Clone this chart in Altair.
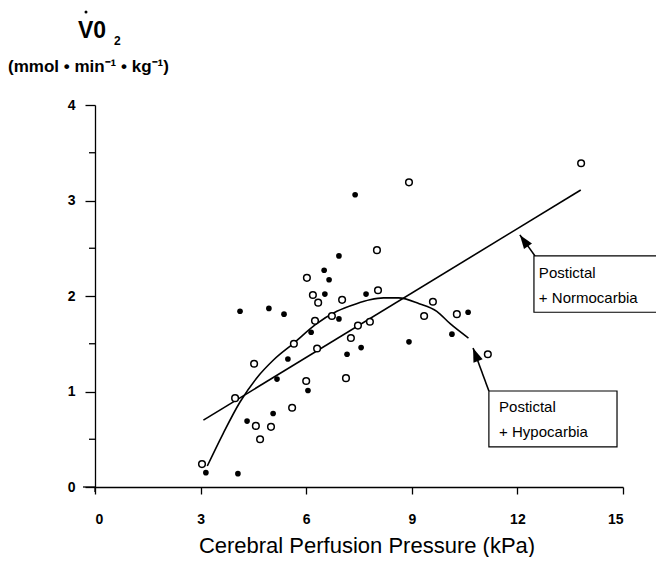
import altair as alt
import pandas as pd

# --- data ---
# Postictal + Normocarbia (open circles)
normo_x = [3.04, 3.98, 4.52, 4.57, 4.69, 5.00, 5.60, 5.65, 6.00, 6.31, 6.25, 6.34, 6.73, 7.02,
           7.13, 7.27, 7.47, 7.81, 6.02, 6.19, 8.01, 8.04, 8.92, 9.60, 9.35, 10.28, 11.16, 13.81]
normo_y = [0.24, 0.93, 1.29, 0.64, 0.50, 0.63, 0.83, 1.50, 1.11, 1.45, 1.74, 1.93, 1.79, 1.96,
           1.14, 1.56, 1.69, 1.73, 2.19, 2.01, 2.48, 2.06, 3.19, 1.94, 1.79, 1.81, 1.39, 3.39]
# Postictal + Hypocarbia (filled circles)
hypo_x = [3.15, 4.06, 4.32, 5.06, 5.17, 5.48, 6.05, 6.14, 6.93, 7.16, 7.56, 4.12, 4.94, 5.37,
          7.39, 6.93, 6.51, 6.65, 6.53, 7.70, 8.92, 10.14, 10.60]
hypo_y = [0.15, 0.14, 0.69, 0.77, 1.13, 1.34, 1.01, 1.62, 1.76, 1.39, 1.46, 1.84, 1.87, 1.81,
          3.06, 2.42, 2.27, 2.17, 2.02, 2.02, 1.52, 1.60, 1.83]
# fitted lines
normo_fit_x = [3.08, 13.80]
normo_fit_y = [0.70, 3.11]
hypo_fit_x = [3.19, 3.64, 4.12, 4.59, 5.07, 5.66, 6.26, 6.87, 7.43, 7.81, 8.20, 8.62, 9.21, 9.71, 10.09, 10.61]
hypo_fit_y = [0.22, 0.56, 0.89, 1.14, 1.33, 1.51, 1.70, 1.84, 1.92, 1.96, 1.98, 1.98, 1.92, 1.84, 1.71, 1.56]

x_ticks = [0, 3, 6, 9, 12, 15]
y_ticks = [0, 1, 2, 3, 4]
y_minor = [0.5, 1.5, 2.5, 3.5]

# annotations (data coordinates)
box_x = [12.47, 11.19]
box_x2 = [16.40, 14.83]
box_y = [2.42, 1.005]
box_y2 = [1.83, 0.42]
label_x = [12.61, 12.61, 11.48, 11.48]
label_y = [2.24, 1.98, 0.84, 0.58]
label_text = ["Postictal", "+ Normocarbia", "Postictal", "+ Hypocarbia"]
arrow_x = [12.50, 11.19]
arrow_y = [2.42, 1.005]
arrow_tip_x = [12.07, 10.74]
arrow_tip_y = [2.64, 1.455]
arrow_angle = [324.5, 339.0]

W, H = 528, 382
FONT = "Liberation Sans"

X = alt.Scale(domain=[0, 15], nice=False, zero=False)
Y = alt.Scale(domain=[0, 4], nice=False, zero=False)

normo_df = pd.DataFrame({"x": normo_x, "y": normo_y})
hypo_df = pd.DataFrame({"x": hypo_x, "y": hypo_y})

axis_x = alt.Axis(values=x_ticks, title=None, grid=False, domainColor="black", domainWidth=1.3,
                  tickColor="black", tickSize=7, tickWidth=1.3, labelFont=FONT, labelFontSize=14,
                  labelFontWeight="bold", labelColor="black", labelPadding=18, format="d")
axis_y = alt.Axis(values=y_ticks, title=None, grid=False, domainColor="black", domainWidth=1.3,
                  tickColor="black", tickSize=10, tickWidth=1.3, labelFont=FONT, labelFontSize=14,
                  labelFontWeight="bold", labelColor="black", labelPadding=10, format="d")

normo_pts = alt.Chart(normo_df).mark_point(
    shape="circle", filled=False, color="black", strokeWidth=1.5, fill="white", fillOpacity=1, size=44, opacity=1
).encode(x=alt.X("x:Q", scale=X, axis=axis_x), y=alt.Y("y:Q", scale=Y, axis=axis_y))

hypo_pts = alt.Chart(hypo_df).mark_point(
    shape="circle", filled=True, color="black", size=32, opacity=1
).encode(x=alt.X("x:Q", scale=X), y=alt.Y("y:Q", scale=Y))

normo_line = alt.Chart(pd.DataFrame({"x": normo_fit_x, "y": normo_fit_y})).mark_line(
    color="black", strokeWidth=1.6
).encode(x=alt.X("x:Q", scale=X), y=alt.Y("y:Q", scale=Y))

hypo_line = alt.Chart(pd.DataFrame({"x": hypo_fit_x, "y": hypo_fit_y})).mark_line(
    color="black", strokeWidth=1.6, interpolate="monotone"
).encode(x=alt.X("x:Q", scale=X), y=alt.Y("y:Q", scale=Y))

minor = alt.Chart(pd.DataFrame({"y": y_minor})).mark_rule(color="black", strokeWidth=1.3).encode(
    y=alt.Y("y:Q", scale=Y), x=alt.value(-6), x2=alt.value(0))

# small extensions of the axis lines past the origin
ext = alt.Chart(pd.DataFrame({"a": [0]})).mark_rule(color="black", strokeWidth=1.3).encode(
    x=alt.value(-12), x2=alt.value(0), y=alt.value(H))
ext2 = alt.Chart(pd.DataFrame({"a": [0]})).mark_rule(color="black", strokeWidth=1.3).encode(
    x=alt.value(0), y=alt.value(H), y2=alt.value(H + 5))

boxes = alt.Chart(pd.DataFrame({"x": box_x, "x2": box_x2, "y": box_y, "y2": box_y2})).mark_rect(
    fill="white", stroke="black", strokeWidth=1.2
).encode(x=alt.X("x:Q", scale=X), x2="x2:Q", y=alt.Y("y:Q", scale=Y), y2="y2:Q")

labels = alt.Chart(pd.DataFrame({"x": label_x, "y": label_y, "t": label_text})).mark_text(
    align="left", baseline="middle", font=FONT, fontSize=15, color="black"
).encode(x=alt.X("x:Q", scale=X), y=alt.Y("y:Q", scale=Y), text="t:N")

arrows = alt.Chart(pd.DataFrame({"x": arrow_x, "y": arrow_y, "x2": arrow_tip_x, "y2": arrow_tip_y})).mark_rule(
    color="black", strokeWidth=1.6
).encode(x=alt.X("x:Q", scale=X), x2="x2:Q", y=alt.Y("y:Q", scale=Y), y2="y2:Q")

heads = alt.Chart(pd.DataFrame({"x": arrow_tip_x, "y": arrow_tip_y, "a": arrow_angle})).mark_point(
    shape="M0,0 L0.7,2 L-0.7,2 Z", filled=True, color="black", size=196, opacity=1
).encode(x=alt.X("x:Q", scale=X), y=alt.Y("y:Q", scale=Y), angle=alt.Angle("a:Q", scale=None))

def txt(text, px, py, size, weight="normal", align="left"):
    return alt.Chart(pd.DataFrame({"t": [text]})).mark_text(
        align=align, baseline="middle", font=FONT, fontSize=size, fontWeight=weight, color="black"
    ).encode(text="t:N", x=alt.value(px), y=alt.value(py))

# titles (pixel positions relative to plot origin)
x_title = txt("Cerebral Perfusion Pressure (kPa)", 272, 441, 22, align="center")
y_title_main = txt("V0", -17, -74, 23, weight="bold")
y_title_dot = alt.Chart(pd.DataFrame({"a": [0]})).mark_point(
    shape="circle", filled=True, color="black", size=9, opacity=1
).encode(x=alt.value(-9), y=alt.value(-93))
y_title_sub = txt("2", 19, -64, 12, weight="bold")
y_title_units = txt("(mmol  \u2022  min\u207b\u00b9 \u2022  kg\u207b\u00b9)", -87, -38, 17, weight="bold")

chart = alt.layer(
    normo_line, hypo_line, minor, ext, ext2, arrows, heads, boxes, labels,
    normo_pts, hypo_pts, x_title, y_title_main, y_title_dot, y_title_sub, y_title_units
).properties(
    width=W, height=H,
    autosize=alt.AutoSizeParams(type="none"),
    padding={"left": 87, "top": 97, "right": 33, "bottom": 70},
    background="white",
).configure_view(strokeWidth=0, stroke=None)

chart.save("out.html", embed_options={"renderer": "svg", "actions": False})
